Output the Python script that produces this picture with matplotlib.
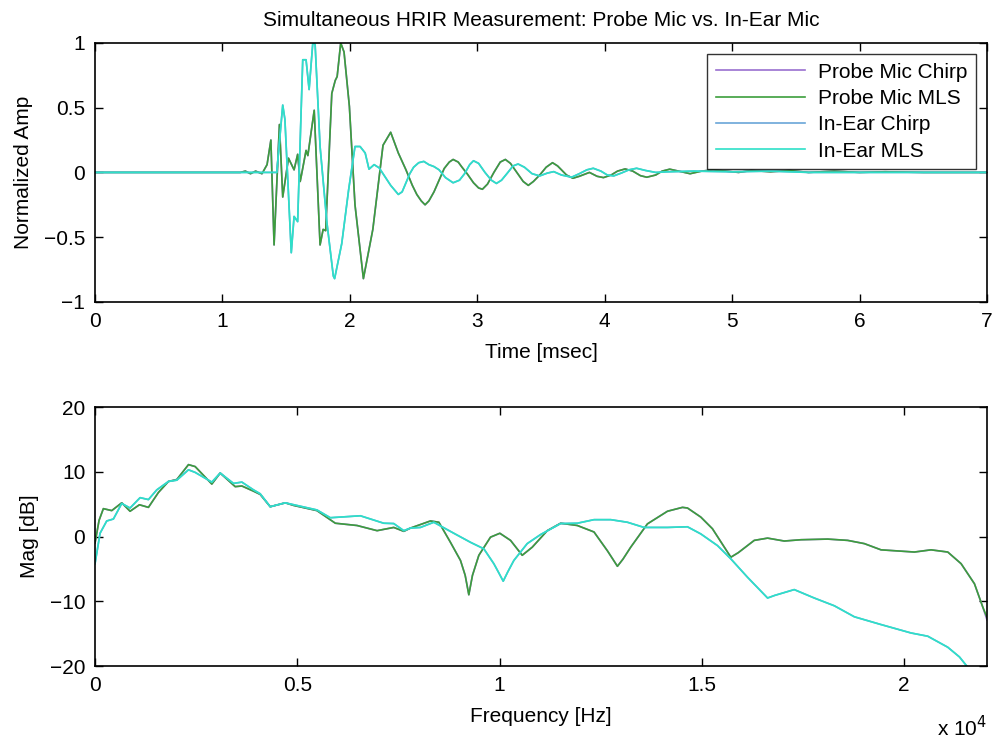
import numpy as np
import matplotlib.pyplot as plt

plt.rcParams['font.family'] = ['Liberation Sans', 'DejaVu Sans']

# impulse response, time in msec
t_probe = [0, 1.14, 1.18, 1.22, 1.26, 1.31, 1.35, 1.38, 1.405, 1.447, 1.473, 1.518, 1.562,
           1.59, 1.61, 1.62, 1.656, 1.67, 1.72, 1.766, 1.79, 1.81, 1.858, 1.885, 1.9,
           1.928, 1.954, 1.996, 2.04, 2.106, 2.18, 2.26, 2.32, 2.38, 2.44, 2.49, 2.525,
           2.56, 2.59, 2.62, 2.66, 2.70, 2.74, 2.78, 2.81, 2.85, 2.88, 2.92, 2.97, 3.01,
           3.04, 3.08, 3.13, 3.18, 3.22, 3.26, 3.31, 3.36, 3.40, 3.44, 3.49, 3.54, 3.59,
           3.63, 3.67, 3.70, 3.75, 3.80, 3.88, 3.94, 3.99, 4.05, 4.10, 4.16, 4.22, 4.28,
           4.33, 4.40, 4.45, 4.51, 4.58, 4.67, 4.76, 4.85, 4.95, 5.05, 5.15, 5.3, 5.45,
           5.6, 5.8, 6.0, 6.2, 6.5, 7.0]
amp_probe = [0, 0, 0.01, -0.01, 0.01, -0.01, 0.06, 0.25, -0.56, 0.37, -0.19, 0.11, 0.02,
             0.14, -0.07, -0.02, 0.17, 0.13, 0.48, -0.56, -0.44, -0.45, 0.61, 0.71, 0.74,
             1.0, 0.93, 0.51, -0.25, -0.82, -0.44, 0.21, 0.31, 0.15, 0.02, -0.10, -0.17,
             -0.22, -0.25, -0.22, -0.15, -0.06, 0.03, 0.08, 0.10, 0.08, 0.04, -0.01, -0.08,
             -0.12, -0.13, -0.09, 0.0, 0.08, 0.10, 0.07, 0.0, -0.07, -0.10, -0.07, -0.02,
             0.04, 0.075, 0.05, 0.01, -0.02, -0.045, -0.03, 0.0, -0.03, -0.04, -0.02, 0.01,
             0.027, 0.01, -0.025, -0.037, -0.02, 0.01, 0.025, 0.01, -0.01, 0.01, 0.02, 0.01,
             0.0, 0.015, 0.005, 0.015, 0.0, 0.01, 0.0, 0.005, 0.0, 0.0]

t_ear = [0, 1.426, 1.473, 1.49, 1.54, 1.562, 1.59, 1.63, 1.656, 1.68, 1.709, 1.727, 1.766,
         1.82, 1.87, 1.88, 1.936, 1.99, 2.04, 2.08, 2.12, 2.15, 2.19, 2.23, 2.32, 2.38,
         2.41, 2.44, 2.47, 2.50, 2.54, 2.58, 2.62, 2.66, 2.70, 2.75, 2.81, 2.86, 2.90,
         2.94, 2.97, 3.01, 3.06, 3.11, 3.15, 3.19, 3.24, 3.28, 3.32, 3.37, 3.43, 3.49,
         3.55, 3.60, 3.66, 3.74, 3.80, 3.86, 3.91, 3.97, 4.02, 4.07, 4.13, 4.19, 4.25,
         4.32, 4.4, 4.5, 4.7, 5.0, 5.3, 5.6, 6.0, 7.0]
amp_ear = [0, 0, 0.52, 0.41, -0.62, -0.34, -0.38, 0.87, 0.87, 0.64, 1.0, 0.99, 0.20,
           -0.39, -0.80, -0.82, -0.55, -0.135, 0.20, 0.20, 0.15, 0.025, 0.06, 0.035, -0.10,
           -0.17, -0.15, -0.08, -0.01, 0.04, 0.075, 0.085, 0.06, 0.045, 0.02, -0.04, -0.08,
           -0.06, -0.01, 0.06, 0.09, 0.07, 0.0, -0.06, -0.085, -0.06, 0.0, 0.05, 0.065,
           0.04, -0.01, -0.027, -0.005, 0.006, -0.02, -0.037, -0.01, 0.02, 0.032, 0.01,
           -0.02, -0.027, -0.005, 0.02, 0.032, 0.015, 0.0, 0.005, 0.01, 0.005, 0.01, 0.0,
           0.0, 0.0]

# magnitude response
f_probe = [0, 100, 206, 413, 660, 866, 1097, 1320, 1567, 1815, 2022, 2310, 2475, 2887,
           3094, 3465, 3630, 3918, 4083, 4331, 4703, 4910, 5486, 5940, 6476, 6972, 7384,
           7632, 7797, 8291, 8500, 8786, 9034, 9150, 9240, 9330, 9488, 9776, 10007, 10271,
           10560, 10808, 11179, 11509, 11922, 12334, 12665, 12800, 12913, 13050, 13242,
           13655, 14150, 14521, 14645, 14974, 15262, 15716, 15900, 16295, 16625, 17037,
           17449, 18110, 18605, 19017, 19429, 20254, 20666, 21079, 21409, 21739, 21945,
           22050]
mag_probe = [-1.0, 2.5, 4.3, 4.0, 5.2, 3.9, 4.9, 4.5, 6.8, 8.5, 8.8, 11.1, 10.8, 8.1,
             9.8, 7.7, 7.8, 7.0, 6.5, 4.6, 5.2, 4.8, 4.0, 2.05, 1.7, 0.9, 1.4, 0.8, 1.3,
             2.4, 2.2, -0.9, -3.7, -6.0, -9.0, -6.0, -2.9, -0.1, 0.5, -0.6, -2.9, -1.65,
             0.9, 2.05, 1.7, 0.7, -2.2, -3.5, -4.6, -3.5, -1.65, 1.95, 3.9, 4.5, 4.4, 3.0,
             1.2, -3.2, -2.5, -0.6, -0.25, -0.7, -0.5, -0.4, -0.6, -1.1, -2.06, -2.4,
             -2.06, -2.4, -4.2, -7.3, -10.9, -12.5]
mag_probe_chirp = list(mag_probe)
mag_probe_chirp[-1] = -12.9

f_ear = [0, 124, 289, 454, 660, 866, 1114, 1320, 1526, 1815, 2022, 2310, 2475, 2887,
         3094, 3423, 3630, 3918, 4083, 4331, 4703, 5486, 5816, 6559, 7136, 7384, 7632,
         7797, 8044, 8374, 8869, 9282, 9611, 9858, 9980, 10090, 10200, 10353, 10683,
         11014, 11509, 11922, 12334, 12748, 13160, 13572, 14150, 14645, 14974, 15386,
         15716, 16130, 16625, 16800, 17284, 17779, 18275, 18770, 19429, 20171, 20584,
         21079, 21368, 21574, 21800, 22050]
mag_ear = [-4.2, 0.5, 2.4, 2.7, 5.1, 4.4, 6.0, 5.7, 7.2, 8.5, 8.7, 10.3, 9.9, 8.4, 9.8,
           8.2, 8.4, 7.2, 6.6, 4.6, 5.2, 4.1, 2.9, 3.2, 2.05, 2.0, 0.9, 1.3, 1.4, 2.2,
           0.5, -0.9, -1.9, -4.2, -5.6, -6.9, -5.5, -3.7, -1.1, 0.3, 2.0, 2.05, 2.6, 2.6,
           2.2, 1.4, 1.4, 1.5, 0.4, -1.4, -3.45, -6.3, -9.5, -9.1, -8.2, -9.5, -10.7,
           -12.4, -13.6, -14.9, -15.4, -17.1, -18.6, -20.2, -22.5, -26.0]

c_pchirp = '#9a6fd0'
c_pmls = '#3c9e3c'
c_echirp = '#6aa6d8'
c_emls = '#2ee0c8'

fig = plt.figure(figsize=(9.92, 7.4), dpi=100)
ax1 = fig.add_axes([0.0958, 0.592, 0.8992, 0.350])
ax2 = fig.add_axes([0.0958, 0.100, 0.8992, 0.350])

ax1.plot(t_probe, amp_probe, color=c_pchirp, lw=1.2, label='Probe Mic Chirp')
ax1.plot(t_probe, amp_probe, color=c_pmls, lw=1.2, label='Probe Mic MLS')
ax1.plot(t_ear, amp_ear, color=c_echirp, lw=1.2, label='In-Ear Chirp')
ax1.plot(t_ear, amp_ear, color=c_emls, lw=1.2, label='In-Ear MLS')
ax1.set_xlim(0, 7)
ax1.set_ylim(-1, 1)
ax1.set_xticks(range(8))
ax1.set_yticks([-1, -0.5, 0, 0.5, 1])
ax1.set_yticklabels(['\u22121', '\u22120.5', '0', '0.5', '1'])
ax1.set_xlabel('Time [msec]', fontsize=15, labelpad=9)
ax1.set_ylabel('Normalized Amp', fontsize=15, labelpad=8)
ax1.set_title('Simultaneous HRIR Measurement: Probe Mic vs. In-Ear Mic', fontsize=15, pad=12)
leg = ax1.legend(loc='upper right', fontsize=15, frameon=True, fancybox=False,
                 edgecolor='black', handlelength=4.3, handletextpad=0.6, borderpad=0.4,
                 labelspacing=0.35, borderaxespad=0.55)
leg.get_frame().set_linewidth(1.0)

ax2.plot(f_probe, mag_probe_chirp, color=c_pchirp, lw=1.2)
ax2.plot(f_probe, mag_probe, color=c_pmls, lw=1.2)
ax2.plot(f_ear, mag_ear, color=c_echirp, lw=1.2)
ax2.plot(f_ear, mag_ear, color=c_emls, lw=1.2)
ax2.set_xlim(0, 22050)
ax2.set_ylim(-20, 20)
ax2.set_xticks([0, 5000, 10000, 15000, 20000])
ax2.set_xticklabels(['0', '0.5', '1', '1.5', '2'])
ax2.set_yticks([-20, -10, 0, 10, 20])
ax2.set_yticklabels(['\u221220', '\u221210', '0', '10', '20'])
ax2.set_xlabel('Frequency [Hz]', fontsize=15, labelpad=9)
ax2.set_ylabel('Mag [dB]', fontsize=15, labelpad=8)
ax2.text(1.0, -0.19, 'x 10$^{4}$', transform=ax2.transAxes, ha='right', va='top', fontsize=15)

for ax in (ax1, ax2):
    ax.tick_params(direction='in', top=True, right=True, length=6, width=1, labelsize=15, pad=7)
    for s in ax.spines.values():
        s.set_linewidth(1.2)

fig.savefig('out.png', dpi=100)
